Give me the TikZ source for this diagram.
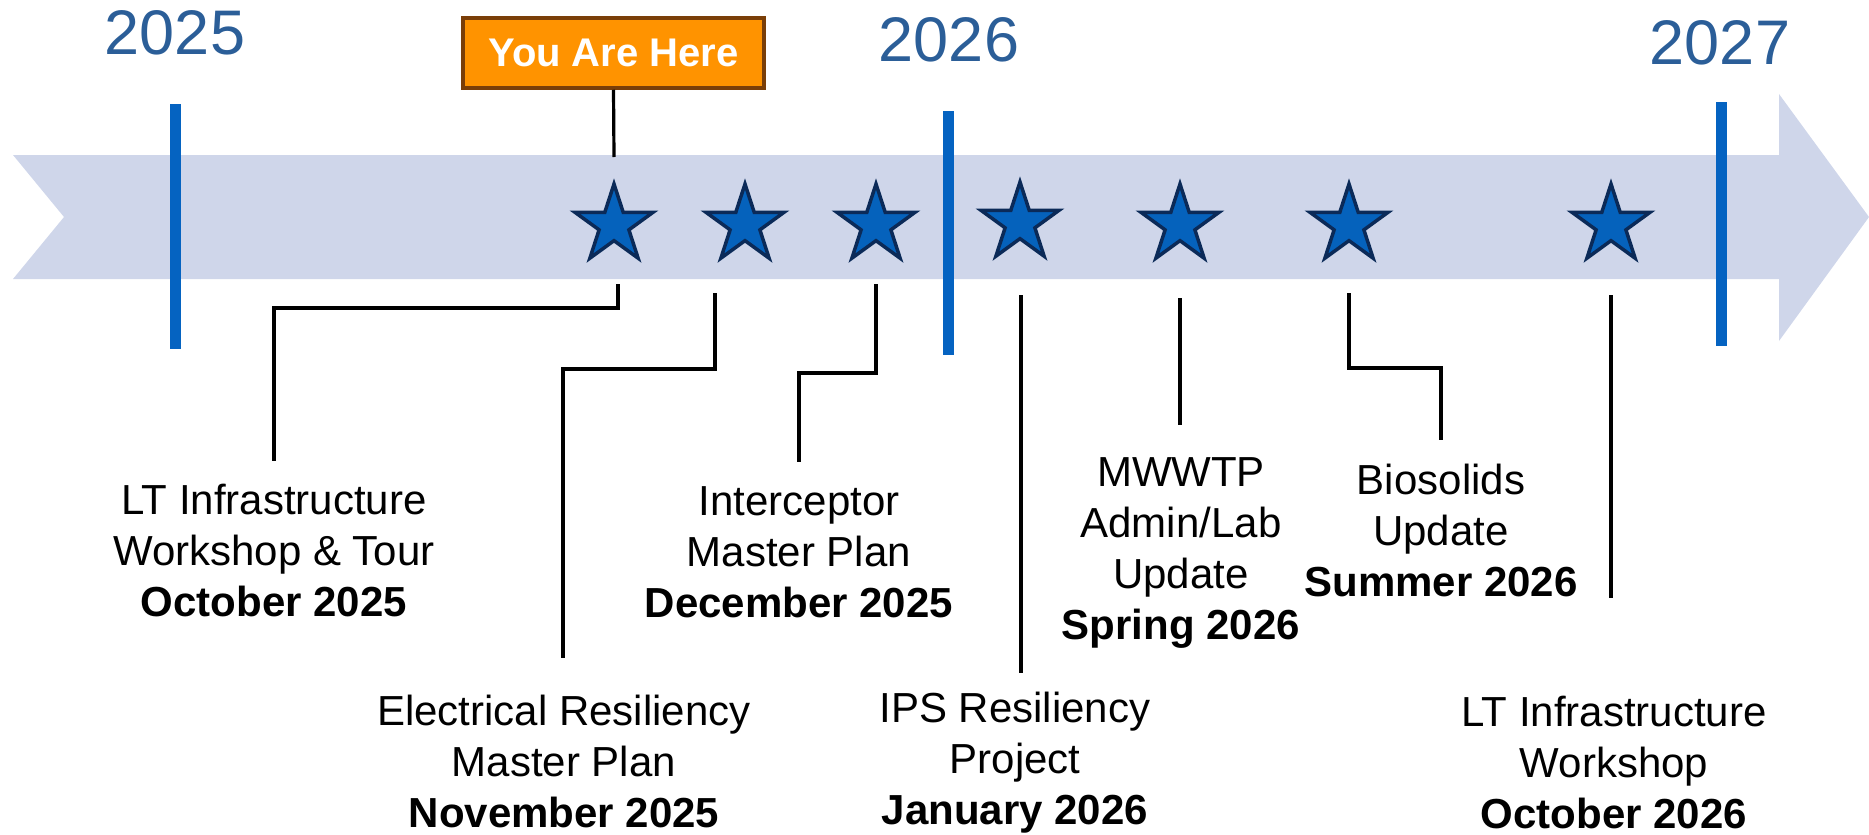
\documentclass[tikz,border=0pt]{standalone}
\usepackage{fontspec}
\setmainfont{Liberation Sans}
\usetikzlibrary{shapes.geometric}
\definecolor{bandcol}{HTML}{CFD6EA}
\definecolor{yearline}{HTML}{0563C1}
\definecolor{yeartext}{HTML}{2B5E98}
\definecolor{starfill}{HTML}{0562BC}
\definecolor{starborder}{HTML}{0B2A58}
\definecolor{herefill}{HTML}{FF9300}
\definecolor{hereborder}{HTML}{7A3E08}
\tikzset{
  yearlbl/.style={text=yeartext, font=\fontsize{63}{70}\selectfont, inner sep=0pt},
  yearbar/.style={draw=yearline, line width=11pt},
  starnode/.style={star, star points=5, star point ratio=2.618, minimum size=82pt, inner sep=0pt, draw=starborder, fill=starfill, line width=3.5pt},
  conn/.style={draw=black, line width=3.2pt},
  evlbl/.style={align=center, font=\fontsize{42}{51}\selectfont, inner sep=0pt},
}
\begin{document}
\begin{tikzpicture}[x=1pt,y=-1pt]
\useasboundingbox (0,0) rectangle (1869,835);
% band arrow
\fill[bandcol] (13,155) -- (1779,155) -- (1779,94) -- (1869,217) -- (1779,341) -- (1779,279) -- (13,279) -- (64,217) -- cycle;
% year bars
\coordinate (y25a) at (175,104); \coordinate (y25b) at (175,349);
\coordinate (y26a) at (948,111); \coordinate (y26b) at (948,355);
\coordinate (y27a) at (1721,102); \coordinate (y27b) at (1721,346);
\draw[yearbar] (y25a) -- (y25b);
\draw[yearbar] (y26a) -- (y26b);
\draw[yearbar] (y27a) -- (y27b);
% year labels
\node[yearlbl] (t25) at (175,33) {2025};
\node[yearlbl] (t26) at (949,40) {2026};
\node[yearlbl] (t27) at (1720,43) {2027};
% you are here
\node[fill=herefill, draw=hereborder, line width=3.5pt, minimum width=301pt, minimum height=70pt, inner sep=0pt, text=white, font=\fontsize{40}{44}\selectfont\bfseries] (here) at (613.5,53) {You Are Here};
\coordinate (hereend) at (614,157);
\draw[conn] (here.south) -- (hereend);
% stars
\node[starnode] (s1) at (614,225) {};
\node[starnode] (s2) at (745,225) {};
\node[starnode] (s3) at (876,225) {};
\node[starnode] (s4) at (1020,223) {};
\node[starnode] (s5) at (1180,225) {};
\node[starnode] (s6) at (1349,225) {};
\node[starnode] (s7) at (1611,225) {};
% labels
\node[evlbl] (l1) at (274,551) {LT Infrastructure\\Workshop \& Tour\\\textbf{October 2025}};
\node[evlbl] (l2) at (564,761) {Electrical Resiliency\\Master Plan\\\textbf{November 2025}};
\node[evlbl] (l3) at (799,552) {Interceptor\\Master Plan\\\textbf{December 2025}};
\node[evlbl] (l4) at (1015,763) {IPS Resiliency\\Project\\\textbf{January 2026}};
\node[evlbl] (l5) at (1181,553) {MWWTP\\Admin/Lab\\Update\\\textbf{Spring 2026}};
\node[evlbl] (l6) at (1441,530) {Biosolids\\Update\\\textbf{Summer 2026}};
\node[evlbl] (l7) at (1614,762) {LT Infrastructure\\Workshop\\\textbf{October 2026}};
% connector endpoints
\coordinate (c1a) at (618,284); \coordinate (c1b) at (274,461);
\coordinate (c2a) at (715,293); \coordinate (c2b) at (563,658);
\coordinate (c3a) at (876,284); \coordinate (c3b) at (799,462);
\coordinate (c4a) at (1021,295); \coordinate (c4b) at (1021,673);
\coordinate (c5a) at (1180,298); \coordinate (c5b) at (1180,425);
\coordinate (c6a) at (1349,293); \coordinate (c6b) at (1441,440);
\coordinate (c7a) at (1611,295); \coordinate (c7b) at (1611,598);
\draw[conn] (c1a) |- (446,308) -| (c1b);
\draw[conn] (c2a) |- (640,369) -| (c2b);
\draw[conn] (c3a) |- (838,373) -| (c3b);
\draw[conn] (c4a) -- (c4b);
\draw[conn] (c5a) -- (c5b);
\draw[conn] (c6a) |- (1395,368) -| (c6b);
\draw[conn] (c7a) -- (c7b);
\end{tikzpicture}
\end{document}
